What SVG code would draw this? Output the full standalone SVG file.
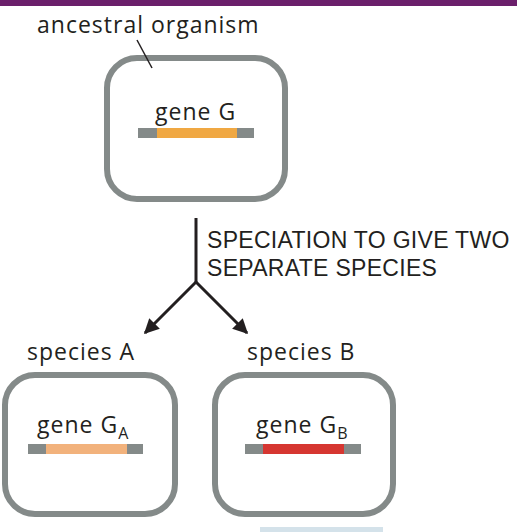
<svg xmlns="http://www.w3.org/2000/svg" width="517" height="532" viewBox="0 0 517 532">
<defs>
<style>
.t{font-family:"Open Sans","Noto Sans","DejaVu Sans",sans-serif;font-size:23px;letter-spacing:1px;fill:#231f20}
.cap{font-family:"Liberation Sans",Arial,sans-serif;font-size:23px;letter-spacing:0.3px;fill:#231f20}
.box{fill:#fff;stroke:#848a89;stroke-width:6}
.end{fill:#848a89}
.ln{stroke:#231f20;stroke-width:3;fill:none}
</style>
<marker id="ah" viewBox="0 0 10 10" refX="9" refY="5" markerWidth="5" markerHeight="5" orient="auto" markerUnits="strokeWidth">
<path d="M0,0 L10,5 L0,10 z" fill="#231f20"/>
</marker>
</defs>
<rect width="517" height="532" fill="#fff"/>
<rect x="0" y="0" width="517" height="6" fill="#6b1f6b"/>
<g id="ancestral">
<rect class="box" x="107" y="58" width="178" height="141" rx="30"/>
<rect class="end" x="138" y="128" width="116" height="10"/>
<rect x="157" y="128" width="80" height="10" fill="#f0a843"/>
<text class="t" x="155" y="120">gene G</text>
</g>
<g id="label-ancestral">
<text class="t" x="37" y="33">ancestral organism</text>
<line x1="137" y1="40" x2="152" y2="68" stroke="#231f20" stroke-width="1.5"/>
</g>
<g id="speciesA">
<text class="t" x="27" y="360">species A</text>
<rect class="box" x="5" y="375" width="170" height="139" rx="30"/>
<rect class="end" x="28" y="444" width="115" height="10"/>
<rect x="46" y="444" width="81" height="10" fill="#f2b27c"/>
<text class="t" x="37" y="433">gene G<tspan font-size="16" dy="6">A</tspan></text>
</g>
<g id="speciesB">
<text class="t" x="247" y="360">species B</text>
<rect class="box" x="215" y="375" width="178" height="139" rx="30"/>
<rect class="end" x="245" y="444" width="116" height="10"/>
<rect x="263" y="444" width="81" height="10" fill="#d63631"/>
<text class="t" x="256" y="433">gene G<tspan font-size="16" dy="6">B</tspan></text>
</g>
<g id="connectors">
<path class="ln" d="M196,218 V282"/>
<path class="ln" d="M196,282 L145,333" marker-end="url(#ah)"/>
<path class="ln" d="M196,282 L247,333" marker-end="url(#ah)"/>
</g>
<g id="speciation-label">
<text class="cap" x="207" y="248">SPECIATION TO GIVE TWO</text>
<text class="cap" x="207" y="276">SEPARATE SPECIES</text>
</g>
<rect x="260" y="527" width="123" height="5" fill="#d4e2ea"/>
</svg>
